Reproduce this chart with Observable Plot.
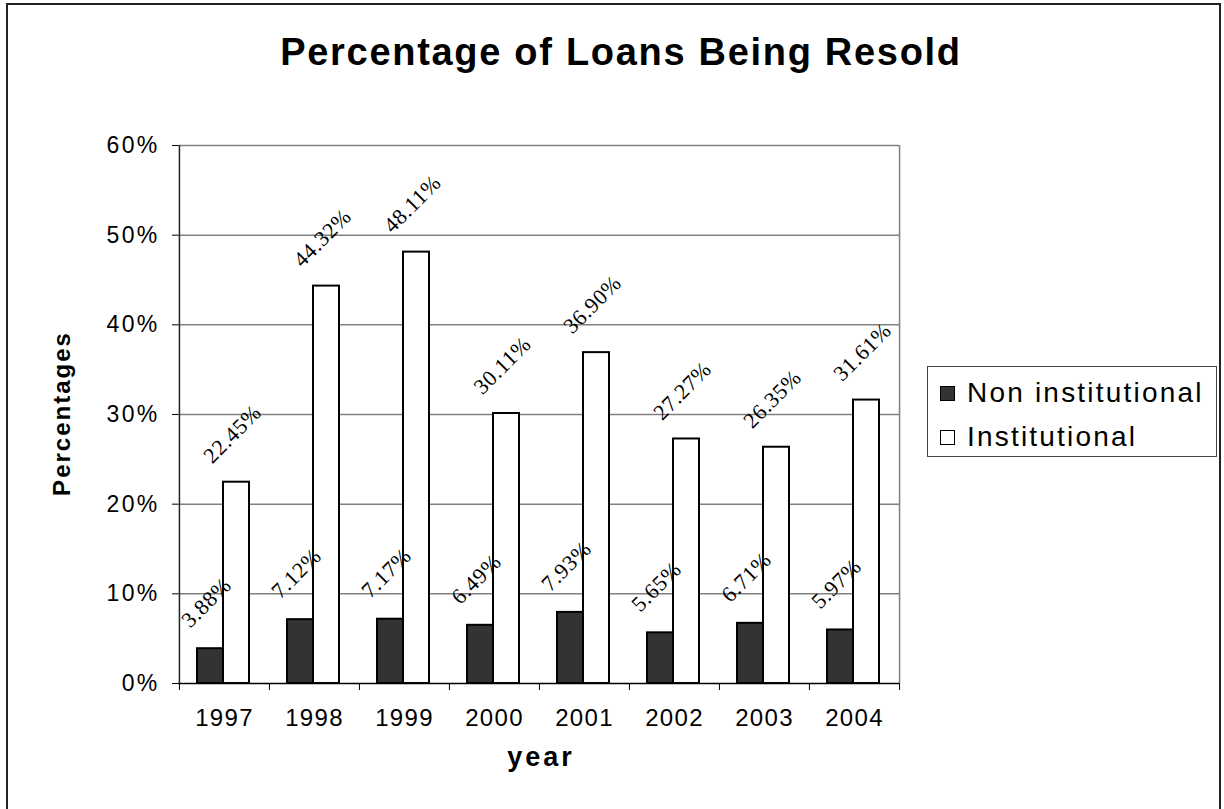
<!DOCTYPE html>
<html><head><meta charset="utf-8">
<script src="https://cdn.jsdelivr.net/npm/d3@7"></script>
<script src="https://cdn.jsdelivr.net/npm/@observablehq/plot@0.6"></script>
<style>
html,body{margin:0;padding:0;background:#fff;overflow:hidden;}
body{width:1224px;height:809px;position:relative;font-family:"Liberation Sans",Arial,sans-serif;color:#000;}
#border{position:absolute;left:6px;top:3px;width:1211px;height:900px;border:2px solid #222;pointer-events:none;}
#title{height:100px;box-sizing:border-box;padding-top:33px;padding-left:18px;text-align:center;font-weight:bold;font-size:38px;line-height:38px;letter-spacing:1.7px;white-space:nowrap;}
#chart svg{display:block;}
#legend{position:absolute;left:927px;top:366px;width:288px;height:89px;border:1.5px solid #444;background:#fff;}
.item{position:absolute;left:12px;height:30px;display:flex;align-items:center;font-size:28px;letter-spacing:2.2px;white-space:nowrap;}
.sw{width:13px;height:13px;border:1.5px solid #000;margin-right:12px;flex:none;}
g[aria-label="y-axis tick label"] text{letter-spacing:2.3px;}
g[aria-label="x-axis tick label"] text{letter-spacing:1.3px;}
text[aria-label="y title"]{letter-spacing:2px;}
text[aria-label="x title"]{letter-spacing:3px;}
text[aria-label="value label"]{letter-spacing:0.6px;}
</style>
</head><body>
<div id="border"></div>
<div id="title">Percentage of Loans Being Resold</div>
<div id="chart"></div>
<div id="legend"></div>
<script>
const years = ["1997","1998","1999","2000","2001","2002","2003","2004"];
const nonInstitutional = [0.0388,0.0712,0.0717,0.0649,0.0793,0.0565,0.0671,0.0597];
const institutional = [0.2245,0.4432,0.4811,0.3011,0.3690,0.2727,0.2635,0.3161];
const seriesNames = ["Non institutional","Institutional"];
const seriesFills = ["#333333","#ffffff"];
const yTicks = [0,0.1,0.2,0.3,0.4,0.5,0.6];
const yLabel = "Percentages";
const xLabel = "year";

const nonRows = years.map((y,i)=>({year:y, series:seriesNames[0], value:nonInstitutional[i]}));
const instRows = years.map((y,i)=>({year:y, series:seriesNames[1], value:institutional[i]}));
const pct2 = d3.format(".2%");
const half = 721/16;
const serif = '"Liberation Serif", "Times New Roman", serif';

const chart = Plot.plot({
  width:1224, height:709,
  marginTop:45, marginBottom:126, marginLeft:178, marginRight:325,
  style:{fontFamily:'"Liberation Sans", Arial, sans-serif', color:"#000", background:"transparent", overflow:"visible"},
  x:{domain:years, padding:0, label:null},
  y:{domain:[0,0.6], label:null},
  marks:[
    Plot.ruleY(yTicks.slice(1), {stroke:"#808080", strokeWidth:1.5}),
    Plot.ruleX([years[years.length-1]], {dx:half, stroke:"#808080", strokeWidth:1.5}),
    Plot.barY(nonRows, {x:"year", y:"value", fill:seriesFills[0], stroke:"#000", strokeWidth:2, insetLeft:18, insetRight:46}),
    Plot.barY(instRows, {x:"year", y:"value", fill:seriesFills[1], stroke:"#000", strokeWidth:2, insetLeft:44, insetRight:20}),
    Plot.ruleY([0], {stroke:"#000", strokeWidth:1.5}),
    Plot.ruleX([years[0]], {dx:-half, stroke:"#222", strokeWidth:1.5}),
    Plot.axisY({ticks:yTicks, tickFormat:d3.format(".0%"), tickSize:6, tickPadding:13, fontSize:23, label:null}),
    Plot.axisX({tickSize:0, tickPadding:25, fontSize:24, label:null}),
    Plot.axisX({tickSize:7, tickFormat:()=>"", dx:-half, label:null}),
    Plot.axisX([years[years.length-1]], {tickSize:7, tickFormat:()=>"", dx:half, label:null}),
    Plot.text(nonRows, {x:"year", y:"value", text:d=>pct2(d.value), rotate:-45, dx:-18, dy:-46, fontFamily:serif, fontSize:22, ariaLabel:()=>"value label"}),
    Plot.text(instRows, {x:"year", y:"value", text:d=>pct2(d.value), rotate:-45, dx:8, dy:-48, fontFamily:serif, fontSize:22, ariaLabel:()=>"value label"}),
    Plot.text([yLabel], {frameAnchor:"left", textAnchor:"middle", dx:-116, dy:-1, rotate:-90, fontWeight:"bold", fontSize:24, ariaLabel:()=>"y title"}),
    Plot.text([xLabel], {frameAnchor:"bottom", textAnchor:"middle", dx:2, dy:82, fontWeight:"bold", fontSize:27, ariaLabel:()=>"x title"})
  ]
});
document.getElementById("chart").appendChild(chart);

const legend = document.getElementById("legend");
const centers = [26, 70];
seriesNames.forEach((name,i)=>{
  const item = document.createElement("div");
  item.className = "item";
  item.style.top = (centers[i]-15)+"px";
  const sw = document.createElement("div");
  sw.className = "sw";
  sw.style.background = seriesFills[i];
  const t = document.createElement("span");
  t.textContent = name;
  item.appendChild(sw); item.appendChild(t);
  legend.appendChild(item);
});
</script>
</body></html>
